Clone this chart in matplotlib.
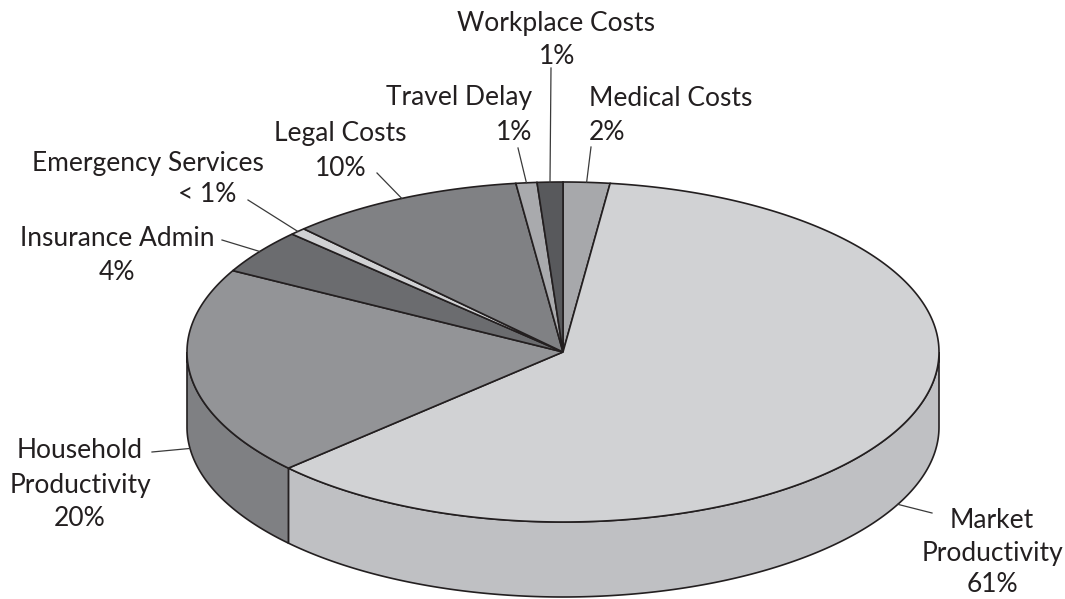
import numpy as np
import matplotlib
matplotlib.use('Agg')
import matplotlib.pyplot as plt

# slices, clockwise from 12 o'clock
names = ['Medical Costs', 'Market\nProductivity', 'Household\nProductivity',
         'Insurance Admin', 'Emergency Services', 'Legal Costs',
         'Travel Delay', 'Workplace Costs']
pct_text = ['2%', '61%', '20%', '4%', '<1%', '10%', '1%', '1%']
# shares as drawn in the picture (measured from the slice boundaries)
shares = [2.0, 61.0, 19.9, 4.25, 0.7, 10.1, 0.9, 1.1]

top_colors = ['#a7a8ab', '#d1d2d4', '#939497', '#6b6c6f',
              '#d0d1d3', '#808184', '#a9aaad', '#58595c']
side_colors = ['#97989b', '#bfc0c3', '#7f8083', '#5c5d60',
               '#bebfc2', '#6f7073', '#98999c', '#4b4c4f']

# label layout: (x, y, ha) for each text line, in pixels
label_lines = [
    [('Medical Costs', 589, 98, 'left'), ('2%', 589, 132, 'left')],
    [('Market', 992, 520, 'center'), ('Productivity', 992, 553, 'center'), ('61%', 992, 584, 'center')],
    [('Household', 80, 451, 'center'), ('Productivity', 81, 485, 'center'), ('20%', 80, 518, 'center')],
    [('Insurance Admin', 117, 238, 'center'), ('4%', 117, 272, 'center')],
    [('Emergency Services', 148, 163, 'center'), ('< 1%', 207, 195, 'center')],
    [('Legal Costs', 340, 133, 'center'), ('10%', 341, 168, 'center')],
    [('Travel Delay', 532, 98, 'right'), ('1%', 532, 132, 'right')],
    [('Workplace Costs', 556, 23, 'center'), ('1%', 557, 57, 'center')],
]
# outer end of each leader line
leader_ends = [(591, 147), (932, 513), (152, 452), (222, 240),
               (248, 200), (377, 173), (518, 148), (551, 68)]

cx, cy, rx, ry, depth = 563, 352, 376, 170, 75
edge = '#231f20'

def ell(theta, dz=0.0):
    t = np.radians(theta)
    return cx + rx * np.cos(t), cy - ry * np.sin(t) + dz

fig = plt.figure(figsize=(10.65, 5.99), dpi=100)
ax = fig.add_axes([0, 0, 1, 1])
ax.set_xlim(0, 1065)
ax.set_ylim(599, 0)
ax.axis('off')

total = sum(shares)
cum = np.concatenate([[0], np.cumsum(shares)])
bounds = 90 - 360 * cum / total

# outer side of the cake (front half only)
for i in range(len(shares)):
    hi, lo = bounds[i], bounds[i + 1]
    a, b = min(hi, 0), max(lo, -180)
    if a <= b:
        continue
    t = np.linspace(a, b, 200)
    xt, yt = ell(t)
    xb, yb = ell(t[::-1], depth)
    ax.fill(np.concatenate([xt, xb]), np.concatenate([yt, yb]),
            facecolor=side_colors[i], edgecolor=edge, linewidth=1.2, zorder=1)

# top face
for i in range(len(shares)):
    hi, lo = bounds[i], bounds[i + 1]
    t = np.linspace(hi, lo, max(int(abs(hi - lo) * 3), 4))
    xt, yt = ell(t)
    ax.fill(np.concatenate([[cx], xt]), np.concatenate([[cy], yt]),
            facecolor=top_colors[i], edgecolor=edge, linewidth=1.2,
            joinstyle='miter', zorder=2)

# leader lines + labels
for i in range(len(shares)):
    mid = (bounds[i] + bounds[i + 1]) / 2
    front = -180 < mid < 0
    x0, y0 = ell(mid, depth if front else 0)
    x1, y1 = leader_ends[i]
    ax.plot([x0, x1], [y0, y1], color='#3a3a3a', linewidth=0.9, zorder=3)
    for txt, x, y, ha in label_lines[i]:
        ax.text(x, y, txt, ha=ha, va='center', fontsize=19,
                family='Lato', color=edge, zorder=4)

fig.savefig('out.png', dpi=100)
